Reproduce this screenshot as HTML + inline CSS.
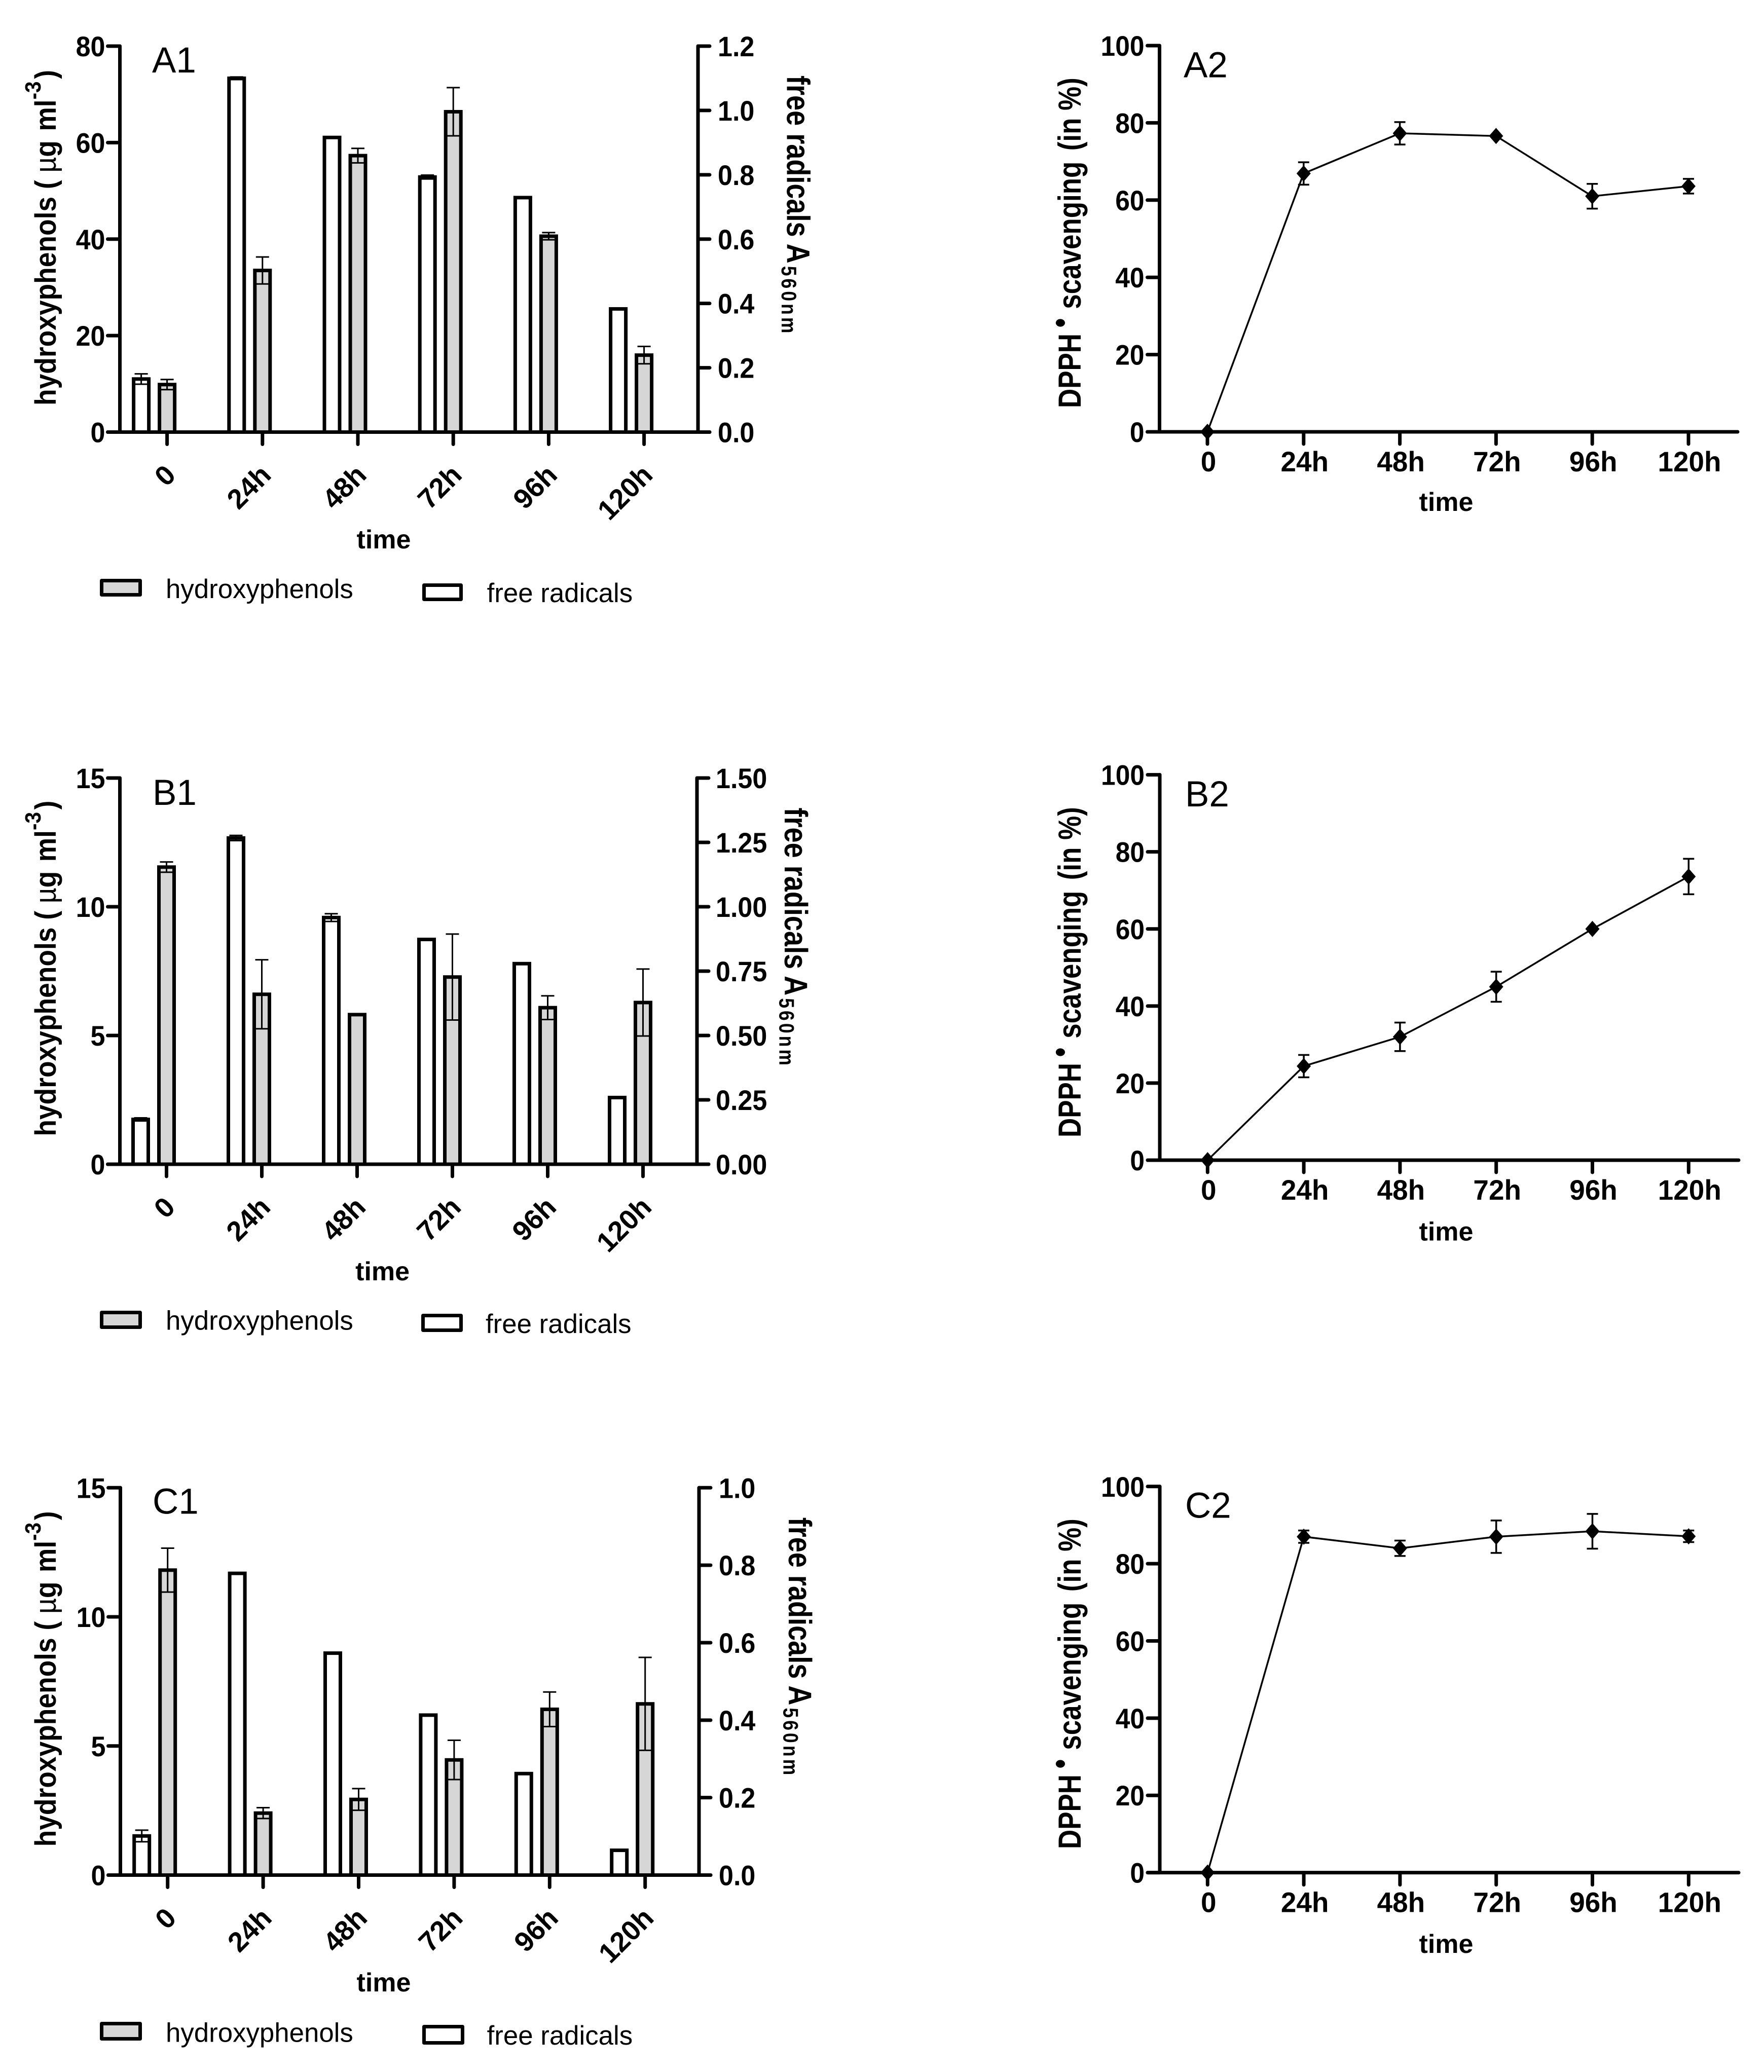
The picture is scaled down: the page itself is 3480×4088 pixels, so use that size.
<!DOCTYPE html>
<html lang="en">
<head>
<meta charset="utf-8">
<title>Hydroxyphenols, free radicals and DPPH scavenging over time</title>
<style>
html,body{margin:0;padding:0;background:#fff;}
svg{display:block;}
text{font-family:"Liberation Sans",Arial,sans-serif;fill:#000;}
.b{font-weight:bold;}
.yt{font-weight:bold;font-size:58px;}
.rt{font-weight:bold;font-size:64px;}
.dt{font-weight:bold;font-size:63px;}
.time{font-weight:bold;font-size:52px;text-anchor:middle;}
.panel{font-size:71px;}
.leg{font-size:52.8px;}
.sw{stroke:#000;stroke-width:7;stroke-linejoin:round;}
</style>
</head>
<body>
<svg id="figure" xmlns="http://www.w3.org/2000/svg" width="3480" height="4088" viewBox="0 0 3480 4088">
<rect x="0" y="0" width="3480" height="4088" fill="#fff"/>

<!-- A1 -->
<g id="a1"></g>
<text class="panel" x="300" y="143">A1</text>
<text class="yt" transform="translate(110,800) rotate(-90) scale(.92,1)">hydroxyphenols ( <tspan font-weight="normal">µ</tspan>g <tspan dx="4">ml</tspan><tspan dy="-30" font-size="44">-3</tspan><tspan dy="30" dx="5">)</tspan></text>
<text class="rt" transform="translate(1552.6,149) rotate(90) scale(.845,1)">free radicals A<tspan dx="6" dy="10.6" font-size="42" letter-spacing="6">560nm</tspan></text>
<text class="time" x="757" y="1082">time</text>
<rect class="sw" x="200.5" y="1145.5" width="76" height="28" fill="#d6d6d6"/>
<text class="leg" x="327" y="1180">hydroxyphenols</text>
<rect class="sw" x="836.5" y="1154.5" width="73" height="28" fill="#fff"/>
<text class="leg" x="960.6" y="1188">free radicals</text>

<!-- A2 -->
<g id="a2"></g>
<text class="panel" x="2335" y="152.5">A2</text>
<text class="dt" transform="translate(2132,805) rotate(-90) scale(.84,1)">DPPH<tspan dx="14" dy="-19">•</tspan><tspan dy="19" dx="4"> scavenging </tspan><tspan dx="8">(in %)</tspan></text>
<text class="time" x="2853" y="1008">time</text>

<!-- B1 -->
<g id="b1"></g>
<text class="panel" x="301" y="1588">B1</text>
<text class="yt" transform="translate(110,2241.6) rotate(-90) scale(.92,1)">hydroxyphenols ( <tspan font-weight="normal">µ</tspan>g <tspan dx="4">ml</tspan><tspan dy="-30" font-size="44">-3</tspan><tspan dy="30" dx="5">)</tspan></text>
<text class="rt" transform="translate(1548,1593.5) rotate(90) scale(.845,1)">free radicals A<tspan dx="6" dy="10.6" font-size="42" letter-spacing="6">560nm</tspan></text>
<text class="time" x="754.6" y="2526">time</text>
<rect class="sw" x="200.5" y="2589.5" width="76" height="29" fill="#d6d6d6"/>
<text class="leg" x="327" y="2623.5">hydroxyphenols</text>
<rect class="sw" x="834.5" y="2595.5" width="75" height="29" fill="#fff"/>
<text class="leg" x="958" y="2630">free radicals</text>

<!-- B2 -->
<g id="b2"></g>
<text class="panel" x="2338" y="1591">B2</text>
<text class="dt" transform="translate(2132,2244) rotate(-90) scale(.84,1)">DPPH<tspan dx="14" dy="-19">•</tspan><tspan dy="19" dx="4"> scavenging </tspan><tspan dx="8">(in %)</tspan></text>
<text class="time" x="2853" y="2447.5">time</text>

<!-- C1 -->
<g id="c1"></g>
<text class="panel" x="301" y="2986.5">C1</text>
<text class="yt" transform="translate(110,3643.4) rotate(-90) scale(.92,1)">hydroxyphenols ( <tspan font-weight="normal">µ</tspan>g <tspan dx="4">ml</tspan><tspan dy="-30" font-size="44">-3</tspan><tspan dy="30" dx="5">)</tspan></text>
<text class="rt" transform="translate(1556,2993.7) rotate(90) scale(.845,1)">free radicals A<tspan dx="6" dy="10.6" font-size="42" letter-spacing="6">560nm</tspan></text>
<text class="time" x="757" y="3929">time</text>
<rect class="sw" x="200.5" y="3992.5" width="76" height="30" fill="#d6d6d6"/>
<text class="leg" x="327" y="4028.7">hydroxyphenols</text>
<rect class="sw" x="836.5" y="3998.5" width="76" height="32" fill="#fff"/>
<text class="leg" x="960.6" y="4034">free radicals</text>

<!-- C2 -->
<g id="c2"></g>
<text class="panel" x="2338" y="2994.5">C2</text>
<text class="dt" transform="translate(2132,3648) rotate(-90) scale(.84,1)">DPPH<tspan dx="14" dy="-19">•</tspan><tspan dy="19" dx="4"> scavenging </tspan><tspan dx="8">(in %)</tspan></text>
<text class="time" x="2853" y="3853">time</text>
</svg>

<script>
// ---- shared categories ----
const timeLabels = ["0", "24h", "48h", "72h", "96h", "120h"];
const phenolTicks80 = ["0", "20", "40", "60", "80"];
const phenolTicks15 = ["0", "5", "10", "15"];
const scavengingTicks = ["0", "20", "40", "60", "80", "100"];

// ---- panel A1 ----
const a1RadicalTicks = ["0.0", "0.2", "0.4", "0.6", "0.8", "1.0", "1.2"];
const a1FreeRadicals = [0.165, 1.10, 0.916, 0.793, 0.729, 0.383];
const a1FreeRadicalsErr = [0.016, 0.004, 0, 0.006, 0.002, 0];
const a1Hydroxyphenols = [9.85, 33.5, 57.3, 66.4, 40.6, 15.95];
const a1HydroxyphenolsErr = [1.05, 2.8, 1.5, 5.0, 0.75, 1.8];

// ---- panel A2 ----
const a2Scavenging = [0, 66.9, 77.3, 76.6, 61, 63.6];
const a2ScavengingErr = [0, 2.9, 2.9, 0, 3.2, 1.9];

// ---- panel B1 ----
const b1RadicalTicks = ["0.00", "0.25", "0.50", "0.75", "1.00", "1.25", "1.50"];
const b1FreeRadicals = [0.174, 1.267, 0.958, 0.873, 0.779, 0.259];
const b1FreeRadicalsErr = [0.006, 0.01, 0.015, 0.003, 0, 0];
const b1Hydroxyphenols = [11.54, 6.6, 5.81, 7.27, 6.08, 6.28];
const b1HydroxyphenolsErr = [0.2, 1.34, 0, 1.67, 0.46, 1.3];

// ---- panel B2 ----
const b2Scavenging = [0, 24.4, 32, 45, 60, 73.6];
const b2ScavengingErr = [0, 2.9, 3.7, 3.9, 0, 4.6];

// ---- panel C1 ----
const c1RadicalTicks = ["0.0", "0.2", "0.4", "0.6", "0.8", "1.0"];
const c1FreeRadicals = [0.101, 0.779, 0.573, 0.413, 0.262, 0.064];
const c1FreeRadicalsErr = [0.015, 0, 0, 0, 0, 0];
const c1Hydroxyphenols = [11.81, 2.4, 2.93, 4.46, 6.42, 6.63];
const c1HydroxyphenolsErr = [0.85, 0.21, 0.42, 0.76, 0.67, 1.8];

// ---- panel C2 ----
const c2Scavenging = [0, 87, 84, 87, 88.4, 87.1];
const c2ScavengingErr = [0, 1.6, 2, 4.2, 4.5, 1.5];

const NS = "http://www.w3.org/2000/svg";
function svgEl(tag, attrs, parent) {
  const e = document.createElementNS(NS, tag);
  for (const k in attrs) e.setAttribute(k, attrs[k]);
  parent.appendChild(e);
  return e;
}
function linearScale(max, y0, yTop) {
  return v => y0 - (v / max) * (y0 - yTop);
}
function axisLine(parent, x1, y1, x2, y2, name) {
  const l = svgEl("line", {x1, y1, x2, y2, stroke: "#000", "stroke-width": 7, "stroke-linecap": "round"}, parent);
  
  
  return l;
}
function errorBar(parent, x, yHi, yLo, capHalf, width, name) {
  const g = svgEl("g", {stroke: "#000", "stroke-width": width, fill: "none"}, parent);
  
  
  svgEl("line", {x1: x, y1: yHi, x2: x, y2: yLo}, g);
  svgEl("line", {x1: x - capHalf, y1: yHi, x2: x + capHalf, y2: yHi}, g);
  svgEl("line", {x1: x - capHalf, y1: yLo, x2: x + capHalf, y2: yLo}, g);
}
function tickLabel(parent, str, x, y, anchor, sx, name) {
  const t = svgEl("text", {"text-anchor": anchor, "class": "b", "font-size": 56, transform: `translate(${x},${y}) scale(${sx},1)`}, parent);
  
  
  t.textContent = str;
  return t;
}

function drawBarPanel(id, g, leftTicks, rightTicks, radicals, radicalsErr, phenols, phenolsErr) {
  const root = document.getElementById(id);
  const leftMax = parseFloat(leftTicks[leftTicks.length - 1]);
  const rightMax = parseFloat(rightTicks[rightTicks.length - 1]);
  const yL = linearScale(leftMax, g.y0, g.top);
  const yR = linearScale(rightMax, g.y0, g.top);
  const xPos = i => g.first + i * g.step;
  const barW = 30;

  timeLabels.forEach((lab, i) => {
    const xc = xPos(i);
    const xw = xc - 51;
    const white = svgEl("rect", {x: xw - barW / 2, y: yR(radicals[i]), width: barW, height: g.y0 - yR(radicals[i]), fill: "#fff", stroke: "#000", "stroke-width": 7}, root);
    
    
    const grey = svgEl("rect", {x: xc - barW / 2, y: yL(phenols[i]), width: barW, height: g.y0 - yL(phenols[i]), fill: "#d6d6d6", stroke: "#000", "stroke-width": 7}, root);
    
    
    if (radicalsErr[i] > 0) errorBar(root, xw, yR(radicals[i] + radicalsErr[i]), yR(radicals[i] - radicalsErr[i]), 13, 3, 'error-bar-free-radicals');
    if (phenolsErr[i] > 0) errorBar(root, xc, yL(phenols[i] + phenolsErr[i]), yL(phenols[i] - phenolsErr[i]), 13, 3, 'error-bar-hydroxyphenols');
  });

  axisLine(root, g.left, g.top, g.left, g.y0, 'left-y-axis');
  axisLine(root, g.right, g.top, g.right, g.y0, 'right-y-axis');
  axisLine(root, g.left - 24, g.y0, g.right + 23, g.y0, 'x-axis');

  leftTicks.forEach(lab => {
    const y = yL(parseFloat(lab));
    axisLine(root, g.left - 24, y, g.left, y, 'left-y-tick');
    tickLabel(root, lab, g.left - 29, y + 20, "end", 0.93, 'left-y-tick-label');
  });
  rightTicks.forEach(lab => {
    const y = yR(parseFloat(lab));
    axisLine(root, g.right, y, g.right + 23, y, 'right-y-tick');
    tickLabel(root, lab, g.labelR, y + 20, "start", 0.93, 'right-y-tick-label');
  });
  timeLabels.forEach((lab, i) => {
    const x = xPos(i);
    axisLine(root, x, g.y0, x, g.y0 + 24, 'x-tick');
    const t = svgEl("text", {"text-anchor": "end", "class": "b", "font-size": 55, transform: `translate(${x + 20},${g.y0 + 88}) rotate(-45)`}, root);
    
    
    t.textContent = lab;
  });
}

function drawLinePanel(id, g, ticks, values, errs) {
  const root = document.getElementById(id);
  const maxV = parseFloat(ticks[ticks.length - 1]);
  const y = linearScale(maxV, g.y0, g.top);
  const xPos = i => g.first + i * g.step;

  axisLine(root, g.left, g.top, g.left, g.y0, 'y-axis');
  axisLine(root, g.left - 24, g.y0, g.end, g.y0, 'x-axis');
  ticks.forEach(lab => {
    const yy = y(parseFloat(lab));
    axisLine(root, g.left - 24, yy, g.left, yy, 'y-tick');
    tickLabel(root, lab, g.left - 30, yy + 20, "end", 0.92, 'y-tick-label');
  });
  timeLabels.forEach((lab, i) => {
    const x = xPos(i);
    axisLine(root, x, g.y0, x, g.y0 + 24, 'x-tick');
    tickLabel(root, lab, x + 2, g.y0 + 78, "middle", 0.98, 'x-tick-label');
  });

  const line = svgEl("polyline", {
    points: values.map((v, i) => xPos(i) + "," + y(v)).join(" "),
    fill: "none", stroke: "#000", "stroke-width": 3.5
  }, root);
  
  

  values.forEach((v, i) => {
    const x = xPos(i), yy = y(v);
    if (errs[i] > 0) errorBar(root, x, y(v + errs[i]), y(v - errs[i]), 11, 3.5, 'scavenging-error-bar');
    const m = svgEl("polygon", {points: `${x},${yy - 16} ${x + 14},${yy} ${x},${yy + 16} ${x - 14},${yy}`, fill: "#000"}, root);
    
    
  });
}

drawBarPanel("a1", {left: 236.5, right: 1377, top: 91, y0: 852.5, first: 329.6, step: 188.2, labelR: 1416}, phenolTicks80, a1RadicalTicks, a1FreeRadicals, a1FreeRadicalsErr, a1Hydroxyphenols, a1HydroxyphenolsErr);
drawBarPanel("b1", {left: 236.5, right: 1375, top: 1535, y0: 2297, first: 328.5, step: 188, labelR: 1412}, phenolTicks15, b1RadicalTicks, b1FreeRadicals, b1FreeRadicalsErr, b1Hydroxyphenols, b1HydroxyphenolsErr);
drawBarPanel("c1", {left: 237.5, right: 1379, top: 2935.3, y0: 3699.5, first: 330.7, step: 188.4, labelR: 1418}, phenolTicks15, c1RadicalTicks, c1FreeRadicals, c1FreeRadicalsErr, c1Hydroxyphenols, c1HydroxyphenolsErr);
drawLinePanel("a2", {left: 2287.5, end: 3428, top: 90, y0: 852, first: 2382, step: 189.8}, scavengingTicks, a2Scavenging, a2ScavengingErr);
drawLinePanel("b2", {left: 2288, end: 3430, top: 1528.6, y0: 2289, first: 2382.3, step: 189.8}, scavengingTicks, b2Scavenging, b2ScavengingErr);
drawLinePanel("c2", {left: 2288, end: 3430, top: 2932.8, y0: 3694.6, first: 2382.3, step: 189.8}, scavengingTicks, c2Scavenging, c2ScavengingErr);
</script>
</body>
</html>
